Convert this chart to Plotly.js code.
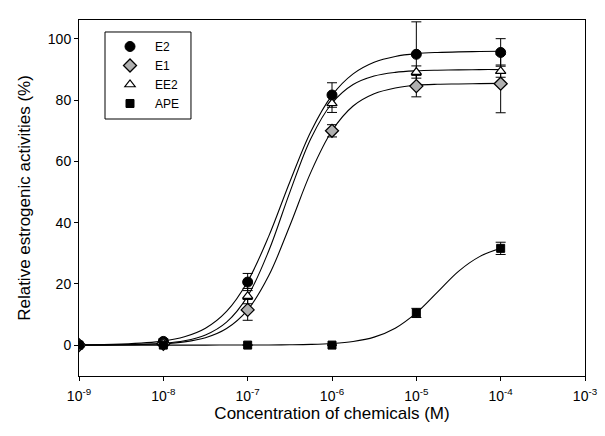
<!DOCTYPE html>
<html><head><meta charset="utf-8">
<script src="https://cdn.plot.ly/plotly-3.0.1.min.js"></script>
<style>html,body{margin:0;padding:0;background:#fff}#chart{width:605px;height:436px}</style>
</head><body><div id="chart"></div>
<script>
// Measured points
const conc = [1e-9, 1e-8, 1e-7, 1e-6, 1e-5, 1e-4];
const e2 = [0, 1.2, 20.6, 81.7, 95.0, 95.6];
const e2Err = [0, 0.8, 2.8, 4.0, 10.6, 4.5];
const e1 = [0, 0.4, 11.5, 70.0, 84.6, 85.4];
const e1Err = [0, 0.6, 3.4, 2.0, 3.5, 9.5];
const ee2 = [0, 0.6, 16.0, 79.0, 89.2, 89.5];
const ee2Err = [0, 0.6, 2.5, 3.0, 2.0, 2.0];
const ape = [0, 0, 0, 0, 10.5, 31.6];
const apeErr = [0, 0, 0, 0, 1.5, 2.0];

// Fitted curves
const curveX = [1e-9, 3.16e-9, 1e-8, 1.78e-8, 3.16e-8, 5.62e-8, 1e-7, 1.78e-7, 3.16e-7, 5.62e-7, 1e-6, 1.78e-6, 3.16e-6, 5.62e-6, 1e-5, 1.78e-5, 3.16e-5, 5.62e-5, 1e-4];
const e2Curve = [0.03, 0.3, 1.3, 2.7, 5.5, 11.0, 20.8, 35.6, 53.3, 69.8, 81.6, 88.6, 92.4, 94.3, 95.2, 95.6, 95.8, 95.9, 96.0];
const e1Curve = [0.02, 0.09, 0.46, 1.05, 2.4, 5.4, 11.5, 22.7, 39.0, 56.5, 70.0, 78.1, 82.1, 84.0, 84.9, 85.2, 85.3, 85.4, 85.5];
const ee2Curve = [0.02, 0.1, 0.59, 1.4, 3.3, 7.5, 16.0, 30.8, 49.9, 67.5, 79.0, 85.1, 87.9, 89.1, 89.6, 89.8, 89.9, 90.0, 90.0];
const apeCurve = [0, 0, 0, 0, 0, 0.01, 0.02, 0.04, 0.1, 0.22, 0.51, 1.17, 2.6, 5.5, 10.5, 17.3, 24.1, 28.9, 31.6];

const names = ['E2', 'E1', 'EE2', 'APE'];
const ys = [e2, e1, ee2, ape];
const errs = [e2Err, e1Err, ee2Err, apeErr];
const curves = [e2Curve, e1Curve, ee2Curve, apeCurve];
const markers = [
  {symbol: 'circle', size: 10, color: '#000', line: {color: '#000', width: 1}},
  {symbol: 'diamond', size: 10, color: '#b0b0b0', line: {color: '#000', width: 1.3}},
  {symbol: 'triangle-up', size: 9, color: '#fff', line: {color: '#000', width: 1.2}},
  {symbol: 'square', size: 8, color: '#000', line: {color: '#000', width: 1}}
];

const traces = [];
for (let i = 0; i < 4; i++) {
  traces.push({x: curveX, y: curves[i], type: 'scatter', mode: 'lines', line: {color: '#000', width: 1.1, shape: 'spline'}, showlegend: false, hoverinfo: 'skip'});
}
for (let i = 0; i < 4; i++) {
  traces.push({x: conc, y: ys[i], name: names[i], type: 'scatter', mode: 'markers', marker: markers[i],
    error_y: {type: 'data', array: errs[i], visible: true, color: '#000', thickness: 1, width: 5}});
}

const layout = {
  width: 605, height: 436,
  margin: {l: 79, r: 20, t: 20, b: 60},
  paper_bgcolor: '#fff', plot_bgcolor: '#fff',
  font: {family: 'Liberation Sans, Arial, sans-serif', color: '#000', size: 13},
  xaxis: {type: 'log', range: [-9, -3], tickvals: [1e-9, 1e-8, 1e-7, 1e-6, 1e-5, 1e-4, 1e-3],
    ticktext: ['10<sup>-9</sup>', '10<sup>-8</sup>', '10<sup>-7</sup>', '10<sup>-6</sup>', '10<sup>-5</sup>', '10<sup>-4</sup>', '10<sup>-3</sup>'],
    showline: true, mirror: true, linecolor: '#000', linewidth: 1, ticks: 'outside', ticklen: 4, tickcolor: '#000',
    showgrid: false, zeroline: false, tickfont: {size: 14}, ticklabelstandoff: 3,
    title: {text: 'Concentration of chemicals (M)', font: {size: 17}, standoff: 1}},
  yaxis: {range: [-10.1, 106.2], tickvals: [0, 20, 40, 60, 80, 100],
    showline: true, mirror: true, linecolor: '#000', linewidth: 1, ticks: 'outside', ticklen: 4, tickcolor: '#000',
    showgrid: false, zeroline: false, tickfont: {size: 14},
    title: {text: 'Relative estrogenic activities (%)', font: {size: 17}, standoff: 12}},
  legend: {x: 0.0514, y: 0.9663, xanchor: 'left', yanchor: 'top', borderwidth: 0,
    bgcolor: 'rgba(0,0,0,0)', font: {size: 12}, tracegroupgap: 0, itemwidth: 40},
  shapes: [{type: 'rect', xref: 'paper', yref: 'paper', x0: 0.0514, x1: 0.2213, y0: 0.7219, y1: 0.9663,
    line: {color: '#000', width: 1}, fillcolor: 'rgba(0,0,0,0)'}]
};

Plotly.newPlot('chart', traces, layout, {displayModeBar: false, staticPlot: true});
</script></body></html>
